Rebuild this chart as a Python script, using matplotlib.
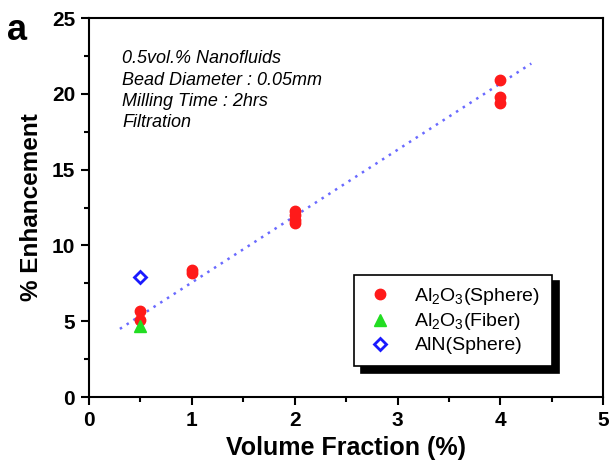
import matplotlib
matplotlib.use("Agg")
import matplotlib.pyplot as plt
from matplotlib.ticker import MultipleLocator

plt.rcParams['font.family'] = ['Liberation Sans', 'DejaVu Sans']
plt.rcParams['mathtext.fontset'] = 'custom'
plt.rcParams['mathtext.rm'] = 'Liberation Sans'
plt.rcParams['mathtext.it'] = 'Liberation Sans:italic'

# Data
sphere_x = [0.5, 0.5, 1, 1, 2, 2, 2, 2, 4, 4, 4]
sphere_y = [5.7, 5.1, 8.4, 8.2, 12.3, 12.0, 11.7, 11.5, 20.9, 19.8, 19.4]
fiber_x = [0.5]
fiber_y = [4.7]
aln_x = [0.5]
aln_y = [7.9]
fit_x = [0.3, 4.3]
fit_y = [4.5, 22.0]

fig = plt.figure(figsize=(6.1, 4.75), dpi=100)
ax = fig.add_axes([0.146, 0.164, 0.843, 0.798])

ax.plot(fit_x, fit_y, linestyle=(0, (1, 2.2)), color='#6a6aff', lw=1.8, zorder=1)
ax.plot(sphere_x, sphere_y, 'o', color='#ff1a1a', ms=7.5, mec='#ff1a1a',
        label=r'Al$_2$O$_3$(Sphere)', zorder=3)
ax.plot(fiber_x, fiber_y, '^', color='#22dd22', ms=8, mec='#22dd22',
        label=r'Al$_2$O$_3$(Fiber)', zorder=4)
ax.plot(aln_x, aln_y, 'D', mfc='white', mec='#1a1aff', mew=2, ms=6.5,
        label='AlN(Sphere)', zorder=3)

ax.set_xlim(0, 5)
ax.set_ylim(0, 25)
ax.xaxis.set_major_locator(MultipleLocator(1))
ax.xaxis.set_minor_locator(MultipleLocator(0.5))
ax.yaxis.set_major_locator(MultipleLocator(5))
ax.yaxis.set_minor_locator(MultipleLocator(2.5))
ax.tick_params(which='major', direction='out', length=6, width=1.5, labelsize=15, pad=4)
ax.tick_params(which='minor', direction='out', length=3.5, width=1.5)
for lab in ax.get_xticklabels() + ax.get_yticklabels():
    lab.set_fontweight('bold')
for s in ax.spines.values():
    s.set_linewidth(1.5)

ax.set_xlabel('Volume Fraction (%)', fontsize=18, fontweight='bold', labelpad=4)
ax.set_ylabel('% Enhancement', fontsize=17.5, fontweight='bold', labelpad=6)

ax.text(0.064, 0.915, '0.5vol.% Nanofluids\nBead Diameter : 0.05mm\nMilling Time : 2hrs\nFiltration',
        transform=ax.transAxes, fontsize=13, fontstyle='italic', va='top', ha='left',
        linespacing=1.33)

fig.text(0.012, 0.915, 'a', fontsize=26, fontweight='bold')

leg = ax.legend(loc='lower right', bbox_to_anchor=(0.90, 0.082), fontsize=14,
                frameon=True, fancybox=False,
                shadow={'color': 'black', 'alpha': 1, 'ox': 5, 'oy': -5},
                edgecolor='black', borderpad=0.6, handletextpad=1.0, labelspacing=0.22,
                handlelength=1.5, borderaxespad=0)
leg.get_frame().set_linewidth(1.2)

fig.savefig('out.png', dpi=100)
